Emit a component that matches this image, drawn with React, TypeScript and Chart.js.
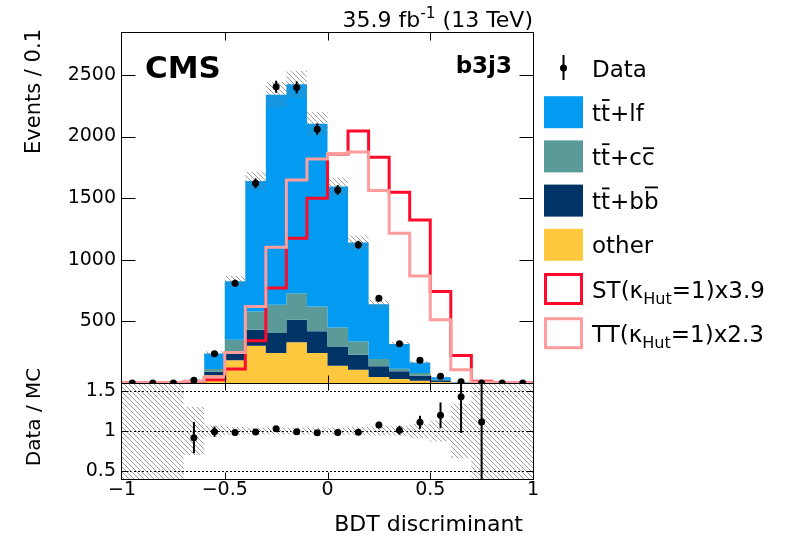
import React, { useEffect, useRef } from 'react';
import { Chart, registerables } from 'chart.js';

Chart.register(...registerables);

const FONT = '"DejaVu Sans", sans-serif';

// ---- data ----
const binLow = [-1.0, -0.9, -0.8, -0.7, -0.6, -0.5, -0.4, -0.3, -0.2, -0.1, 0.0, 0.1, 0.2, 0.3, 0.4, 0.5, 0.6, 0.7, 0.8, 0.9];
const binWidth = 0.1;
const otherBkg = [0, 0, 0, 4, 62, 184, 302, 243, 330, 243, 140, 108, 49, 32, 19, 8, 2, 0.3, 0, 0];
const ttbb = [0, 0, 0, 3, 30, 54, 130, 162, 183, 176, 157, 122, 86, 63, 40, 14, 2, 0.2, 0, 0];
const ttcc = [0, 0, 0, 3, 21, 113, 149, 230, 216, 202, 154, 108, 59, 21, 22, 5, 1, 0.1, 0, 0];
const ttlf = [0, 0, 0, 14, 127, 475, 1059, 1703, 1695, 1483, 1144, 802, 446, 200, 85, 19, 2, 0.3, 0, 0];
const signalST = [0, 0, 0, 5, 27, 113, 343, 770, 1175, 1499, 1858, 2045, 1831, 1548, 1323, 743, 224, 14, 0, 0];
const signalTT = [0, 0, 0, 14, 49, 248, 621, 1102, 1647, 1817, 1862, 1875, 1561, 1215, 869, 513, 108, 8, 0, 0];
const dataCounts = [0, 0, 0, 22, 238, 810, 1620, 2404, 2398, 2060, 1567, 1121, 688, 319, 184, 55, 10, 1, 0, 0];
const mcRelUnc = [1, 1, 1, 0.3, 0.07, 0.05, 0.045, 0.045, 0.045, 0.045, 0.045, 0.05, 0.055, 0.06, 0.09, 0.13, 0.34, 1, 1, 1];

const xTicks = [-1, -0.5, 0, 0.5, 1];
const yTicks = [500, 1000, 1500, 2000, 2500];
const ratioTicks = [0.5, 1, 1.5];
const yMax = 2840;
const ratioMin = 0.4;
const ratioMax = 1.6;

const lumiText = [{ t: '35.9 fb' }, { t: '-1', sup: true }, { t: ' (13 TeV)' }];
const categoryText = 'b3j3';
const xTitle = 'BDT discriminant';
const yTitle = 'Events / 0.1';
const ratioTitle = 'Data / MC';

const C = {
  other: '#FFC83F',
  bb: '#003366',
  cc: '#5A9A98',
  lf: '#039BF2',
  st: '#FF0A2A',
  tt: '#FF9C9C',
};

type Part = { t: string; bar?: boolean; sub?: boolean; sup?: boolean };

const legendItems: { kind: string; color: string; parts: Part[] }[] = [
  { kind: 'data', color: '#000', parts: [{ t: 'Data' }] },
  { kind: 'fill', color: C.lf, parts: [{ t: 't' }, { t: 't', bar: true }, { t: '+lf' }] },
  { kind: 'fill', color: C.cc, parts: [{ t: 't' }, { t: 't', bar: true }, { t: '+c' }, { t: 'c', bar: true }] },
  { kind: 'fill', color: C.bb, parts: [{ t: 't' }, { t: 't', bar: true }, { t: '+b' }, { t: 'b', bar: true }] },
  { kind: 'fill', color: C.other, parts: [{ t: 'other' }] },
  { kind: 'line', color: C.st, parts: [{ t: 'ST(κ' }, { t: 'Hut', sub: true }, { t: '=1)x3.9' }] },
  { kind: 'line', color: C.tt, parts: [{ t: 'TT(κ' }, { t: 'Hut', sub: true }, { t: '=1)x2.3' }] },
];

function stepPoints(vals: number[]) {
  const pts = binLow.map((x, i) => ({ x, y: vals[i] }));
  pts.push({ x: binLow[binLow.length - 1] + binWidth, y: vals[vals.length - 1] });
  return pts;
}

function makeHatch(color: string, n: number, lw: number) {
  const c = document.createElement('canvas');
  c.width = n;
  c.height = n;
  const g = c.getContext('2d')!;
  g.strokeStyle = color;
  g.lineWidth = lw;
  g.beginPath();
  g.moveTo(-1, -1);
  g.lineTo(n + 1, n + 1);
  g.moveTo(-1, n - 1);
  g.lineTo(1, n + 1);
  g.moveTo(n - 1, -1);
  g.lineTo(n + 1, 1);
  g.stroke();
  return g.createPattern(c, 'repeat')!;
}

function richWidth(ctx: CanvasRenderingContext2D, parts: Part[], size: number) {
  let w = 0;
  for (const p of parts) {
    const fs = p.sub || p.sup ? size * 0.7 : size;
    ctx.font = `${fs}px ${FONT}`;
    w += ctx.measureText(p.t).width;
  }
  return w;
}

function drawRich(ctx: CanvasRenderingContext2D, x: number, y: number, parts: Part[], size: number) {
  let cx = x;
  ctx.textAlign = 'left';
  ctx.textBaseline = 'alphabetic';
  for (const p of parts) {
    const fs = p.sub || p.sup ? size * 0.7 : size;
    ctx.font = `${fs}px ${FONT}`;
    const dy = p.sub ? size * 0.28 : p.sup ? -size * 0.42 : 0;
    ctx.fillText(p.t, cx, y + dy);
    const m = ctx.measureText(p.t);
    if (p.bar) {
      const top = y - m.actualBoundingBoxAscent - 3;
      ctx.fillRect(cx + 1, top - 1.6, m.width - 1.5, 1.8);
    }
    cx += m.width;
  }
}

const fmtNum = (v: number) => (v < 0 ? '\u2212' + String(Math.abs(v)) : String(v));

export default function App() {
  const ref = useRef<HTMLCanvasElement>(null);

  useEffect(() => {
    const canvas = ref.current!;
    const hatch = makeHatch('rgba(125,125,125,0.75)', 5, 1);

    const cum1 = otherBkg.slice();
    const cum2 = cum1.map((v, i) => v + ttbb[i]);
    const cum3 = cum2.map((v, i) => v + ttcc[i]);
    const total = cum3.map((v, i) => v + ttlf[i]);
    const uncLo = total.map((v, i) => v * (1 - Math.min(mcRelUnc[i], 1)));
    const uncHi = total.map((v, i) => v * (1 + mcRelUnc[i]));
    const rLo = mcRelUnc.map((u) => Math.max(1 - u, ratioMin));
    const rHi = mcRelUnc.map((u) => Math.min(1 + u, ratioMax));
    const centers = binLow.map((x) => x + binWidth / 2);
    const ratio = dataCounts.map((d, i) => (total[i] > 0 && d > 0 ? d / total[i] : null));

    const stepBase: any = {
      type: 'line',
      stepped: 'before',
      pointRadius: 0,
      borderWidth: 0,
      borderColor: 'rgba(0,0,0,0)',
      xAxisID: 'x',
      yAxisID: 'y',
    };

    const fixAxis = (w?: number, h?: number) => (s: any) => {
      if (w !== undefined) s.width = w;
      if (h !== undefined) s.height = h;
      s.paddingLeft = 0;
      s.paddingRight = 0;
      s.paddingTop = 0;
      s.paddingBottom = 0;
    };

    const line = (ctx: CanvasRenderingContext2D, x1: number, y1: number, x2: number, y2: number) => {
      ctx.beginPath();
      ctx.moveTo(x1, y1);
      ctx.lineTo(x2, y2);
      ctx.stroke();
    };

    const decor = {
      id: 'decor',
      beforeDatasetsDraw(chart: any) {
        const ctx = chart.ctx as CanvasRenderingContext2D;
        const { left: L, right: R } = chart.chartArea;
        const yr = chart.scales.yr;
        ctx.save();
        ctx.strokeStyle = '#000';
        ctx.lineWidth = 1;
        ctx.setLineDash([2, 2]);
        for (const v of ratioTicks) {
          const py = Math.round(yr.getPixelForValue(v)) + 0.5;
          line(ctx, L, py, R, py);
        }
        ctx.restore();
      },
      afterDatasetsDraw(chart: any) {
        const ctx = chart.ctx as CanvasRenderingContext2D;
        const xs = chart.scales.x;
        const ys = chart.scales.y;
        const yr = chart.scales.yr;
        const { left: L, right: R } = chart.chartArea;
        ctx.save();
        ctx.strokeStyle = '#000';
        ctx.lineWidth = 2;
        dataCounts.forEach((d, i) => {
          if (d <= 0) return;
          const e = Math.sqrt(d);
          const px = xs.getPixelForValue(centers[i]);
          line(ctx, px, ys.getPixelForValue(Math.max(d - e, 0)), px, ys.getPixelForValue(d + e));
        });
        ctx.save();
        ctx.beginPath();
        ctx.rect(L, yr.top, R - L, yr.bottom - yr.top);
        ctx.clip();
        ratio.forEach((r, i) => {
          if (r === null) return;
          const e = Math.sqrt(dataCounts[i]) / total[i];
          const px = xs.getPixelForValue(centers[i]);
          line(ctx, px, yr.getPixelForValue(r - e), px, yr.getPixelForValue(r + e));
        });
        ctx.restore();
        ctx.restore();
      },
      afterDraw(chart: any) {
        const ctx = chart.ctx as CanvasRenderingContext2D;
        const xs = chart.scales.x;
        const ys = chart.scales.y;
        const yr = chart.scales.yr;
        const L = chart.chartArea.left;
        const R = chart.chartArea.right;
        const T = chart.chartArea.top;
        const B = chart.chartArea.bottom;
        const M = ys.bottom;
        ctx.save();
        ctx.strokeStyle = '#000';
        ctx.lineWidth = 1;
        ctx.setLineDash([]);
        const xl = Math.round(L) - 0.5;
        const xr = Math.round(R) + 0.5;
        const yt = Math.round(T) - 0.5;
        const ym = Math.round(M) + 0.5;
        const yb = Math.round(B) + 0.5;
        ctx.strokeRect(xl, yt, xr - xl, ym - yt);
        ctx.strokeRect(xl, ym, xr - xl, yb - ym);
        for (const v of yTicks) {
          const py = Math.round(ys.getPixelForValue(v)) + 0.5;
          line(ctx, xl, py, xl + 14, py);
          line(ctx, xr, py, xr - 14, py);
        }
        for (const v of ratioTicks) {
          const py = Math.round(yr.getPixelForValue(v)) + 0.5;
          line(ctx, xl, py, xl + 7, py);
          line(ctx, xr, py, xr - 7, py);
        }
        for (const v of xTicks) {
          if (v === -1 || v === 1) continue;
          const px = Math.round(xs.getPixelForValue(v)) + 0.5;
          line(ctx, px, yt, px, yt + 8);
          line(ctx, px, ym, px, ym - 8);
          line(ctx, px, ym, px, ym + 7);
          line(ctx, px, yb, px, yb - 7);
        }

        ctx.fillStyle = '#000';
        // CMS label
        ctx.font = `bold 31px ${FONT}`;
        ctx.textAlign = 'left';
        ctx.textBaseline = 'alphabetic';
        ctx.fillText('CMS', 145, 78);
        // category
        ctx.font = `bold 23px ${FONT}`;
        ctx.textAlign = 'right';
        ctx.fillText(categoryText, 512, 73);
        // lumi
        const lw = richWidth(ctx, lumiText, 22);
        drawRich(ctx, 533 - lw, 27, lumiText, 22);
        // x title
        ctx.font = `22px ${FONT}`;
        ctx.textAlign = 'right';
        ctx.textBaseline = 'alphabetic';
        ctx.fillText(xTitle, 523, 531);
        // y titles
        ctx.save();
        ctx.translate(35, 29);
        ctx.rotate(-Math.PI / 2);
        ctx.font = `21px ${FONT}`;
        ctx.textAlign = 'right';
        ctx.textBaseline = 'middle';
        ctx.fillText(yTitle, 0, 0);
        ctx.restore();
        ctx.save();
        ctx.translate(35, 417);
        ctx.rotate(-Math.PI / 2);
        ctx.font = `20px ${FONT}`;
        ctx.textAlign = 'center';
        ctx.textBaseline = 'middle';
        ctx.fillText(ratioTitle, 0, 0);
        ctx.restore();

        // legend
        legendItems.forEach((it, i) => {
          const cy = 68 + i * 44.2;
          if (it.kind === 'data') {
            ctx.lineWidth = 2;
            line(ctx, 563.5, cy - 13, 563.5, cy + 12);
            ctx.beginPath();
            ctx.arc(563.5, cy, 3.5, 0, Math.PI * 2);
            ctx.fill();
          } else if (it.kind === 'fill') {
            ctx.fillStyle = it.color;
            ctx.fillRect(544, cy - 16, 39, 32);
          } else {
            ctx.strokeStyle = it.color;
            ctx.lineWidth = 3;
            ctx.strokeRect(545.5, cy - 14.5, 36, 29);
          }
          ctx.fillStyle = '#000';
          drawRich(ctx, 592, cy + 8.5, it.parts, 23);
        });
        ctx.restore();
      },
    };

    const chart = new Chart(canvas, {
      type: 'line',
      data: {
        datasets: [
          { ...stepBase, label: 'other', data: stepPoints(cum1), backgroundColor: C.other, fill: 'origin', order: 8 },
          { ...stepBase, label: 'ttbb', data: stepPoints(cum2), backgroundColor: C.bb, fill: '-1', order: 7 },
          { ...stepBase, label: 'ttcc', data: stepPoints(cum3), backgroundColor: C.cc, fill: '-1', order: 6 },
          { ...stepBase, label: 'ttlf', data: stepPoints(total), backgroundColor: C.lf, fill: '-1', order: 5 },
          { ...stepBase, label: 'uncLo', data: stepPoints(uncLo), fill: false, order: 4 },
          { ...stepBase, label: 'uncHi', data: stepPoints(uncHi), backgroundColor: hatch, fill: '-1', order: 4 },
          { ...stepBase, label: 'ST', data: stepPoints(signalST), borderColor: C.st, borderWidth: 3, fill: false, order: 3 },
          { ...stepBase, label: 'TT', data: stepPoints(signalTT), borderColor: C.tt, borderWidth: 3, fill: false, order: 2 },
          { ...stepBase, label: 'rLo', yAxisID: 'yr', data: stepPoints(rLo), fill: false, order: 4 },
          { ...stepBase, label: 'rHi', yAxisID: 'yr', data: stepPoints(rHi), backgroundColor: hatch, fill: '-1', order: 4 },
          {
            type: 'line', label: 'Data', showLine: false, xAxisID: 'x', yAxisID: 'y', order: 0,
            data: centers.map((x, i) => ({ x, y: dataCounts[i] })),
            pointRadius: 3.5, pointBackgroundColor: '#000', pointBorderWidth: 0, pointHoverRadius: 3.5,
          },
          {
            type: 'line', label: 'Ratio', showLine: false, xAxisID: 'x', yAxisID: 'yr', order: 0,
            data: centers.map((x, i) => ({ x, y: ratio[i] })),
            pointRadius: 3.5, pointBackgroundColor: '#000', pointBorderWidth: 0, pointHoverRadius: 3.5,
          },
        ] as any,
      },
      options: {
        responsive: false,
        animation: false,
        devicePixelRatio: 1,
        events: [],
        layout: { padding: { left: 0, top: 33, right: 256, bottom: 0 } },
        plugins: { legend: { display: false }, tooltip: { enabled: false } },
        scales: {
          x: {
            type: 'linear', min: -1, max: 1, position: 'bottom',
            afterBuildTicks: (s: any) => { s.ticks = xTicks.map((v) => ({ value: v })); },
            afterFit: fixAxis(undefined, 65),
            grid: { display: false, drawTicks: false },
            border: { display: false },
            ticks: { font: { family: FONT, size: 19 }, color: '#000', padding: 0, maxRotation: 0, autoSkip: false, callback: (v: any) => fmtNum(Number(v)) },
          },
          y: {
            type: 'linear', min: 0, max: yMax, position: 'left', stack: 'panels', stackWeight: 350, weight: 2,
            afterBuildTicks: (s: any) => { s.ticks = yTicks.map((v) => ({ value: v })); },
            afterFit: fixAxis(122, undefined),
            grid: { display: false, drawTicks: false },
            border: { display: false },
            ticks: { font: { family: FONT, size: 19 }, color: '#000', padding: 6, callback: (v: any) => String(v) },
          },
          yr: {
            type: 'linear', min: ratioMin, max: ratioMax, position: 'left', stack: 'panels', stackWeight: 96, weight: 1,
            afterBuildTicks: (s: any) => { s.ticks = ratioTicks.map((v) => ({ value: v })); },
            afterFit: fixAxis(122, undefined),
            grid: { display: false, drawTicks: false },
            border: { display: false },
            ticks: { font: { family: FONT, size: 19 }, color: '#000', padding: 6, callback: (v: any) => String(v) },
          },
        } as any,
      },
      plugins: [decor],
    });
    return () => chart.destroy();
  }, []);

  return (
    <div style={{ position: 'absolute', left: 0, top: 0, width: 789, height: 544, background: '#fff' }}>
      <canvas ref={ref} width={789} height={544} style={{ display: 'block', width: 789, height: 544 }} />
    </div>
  );
}
